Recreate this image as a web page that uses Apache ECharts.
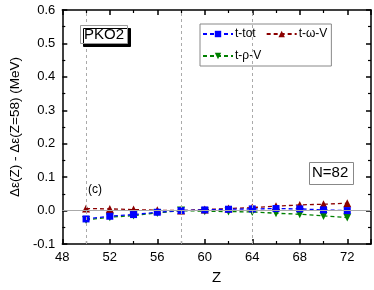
<!DOCTYPE html>
<html><head><meta charset="utf-8">
<script src="https://cdn.jsdelivr.net/npm/echarts@6/dist/echarts.min.js"></script>
<style>html,body{margin:0;padding:0;background:#fff}#c{width:374px;height:290px}</style>
</head><body><div id="c"></div>
<script>
const zValues = [50,52,54,56,58,60,62,64,66,68,70,72];
const tTot  = [-0.025,-0.017,-0.012,-0.005,0,0.002,0.004,0.005,0.006,0.005,0.002,0.0];
const tOmegaV = [0.006,0.005,0.003,0.001,0,0.003,0.006,0.009,0.013,0.017,0.019,0.022];
const tRhoV = [-0.028,-0.020,-0.015,-0.007,0,-0.002,-0.003,-0.004,-0.008,-0.011,-0.016,-0.021];
const seriesNames = ['t-tot','t-ω-V','t-ρ-V'];
const xTicks = [48,52,56,60,64,68,72];
const yTicks = [-0.1,0.0,0.1,0.2,0.3,0.4,0.5,0.6];
const vLines = [50,58,64];

const font = 'Liberation Sans, Arial, sans-serif';
const chart = echarts.init(document.getElementById('c'), null, {renderer:'canvas'});
function pts(arr){ return zValues.map((z,i)=>[z,arr[i]]); }
const axisCommon = {
  axisLine:{show:true,onZero:false,lineStyle:{color:'#000',width:1.5}},
  splitLine:{show:false}
};
const opt = {
  animation:false,
  textStyle:{fontFamily:font},
  grid:{left:60,right:3,top:10,bottom:42,containLabel:false},
  xAxis:[{
    type:'value',min:48,max:74,interval:4,position:'bottom',
    ...axisCommon,
    axisTick:{show:true,inside:true,length:5,lineStyle:{color:'#000',width:1.5}},
    minorTick:{show:true,splitNumber:2,length:3,lineStyle:{color:'#000',width:1.2}},
    axisLabel:{color:'#000',fontSize:13,fontFamily:font,margin:7,
      formatter:v=> xTicks.indexOf(v)>=0 ? String(v) : ''},
    name:'Z',nameLocation:'middle',nameGap:26,nameTextStyle:{color:'#000',fontSize:15,fontFamily:font}
  },{
    type:'value',min:48,max:74,interval:4,position:'top',
    ...axisCommon,
    axisTick:{show:true,inside:true,length:5,lineStyle:{color:'#000',width:1.5}},
    minorTick:{show:true,splitNumber:2,length:3,lineStyle:{color:'#000',width:1.2}},
    axisLabel:{show:false}
  }],
  yAxis:[{
    type:'value',min:-0.1,max:0.6,interval:0.1,position:'left',
    ...axisCommon,
    axisTick:{show:true,inside:true,length:5,lineStyle:{color:'#000',width:1.5}},
    minorTick:{show:true,splitNumber:2,length:3,lineStyle:{color:'#000',width:1.2}},
    axisLabel:{color:'#000',fontSize:13,fontFamily:font,margin:7,
      formatter:v=>{ const r=Math.round(v*10)/10; return yTicks.indexOf(r)>=0 ? r.toFixed(1) : ''; }},
    name:'Δε(Z) - Δε(Z=58) (MeV)',nameLocation:'middle',nameGap:36,nameRotate:90,
    nameTextStyle:{color:'#000',fontSize:13.5,fontFamily:font}
  },{
    type:'value',min:-0.1,max:0.6,interval:0.1,position:'right',
    ...axisCommon,
    axisTick:{show:true,inside:true,length:5,lineStyle:{color:'#000',width:1.5}},
    minorTick:{show:true,splitNumber:2,length:3,lineStyle:{color:'#000',width:1.2}},
    axisLabel:{show:false}
  }],
  legend:{
    show:true,left:200,top:24,width:135,itemGap:10,padding:[4,4,4,2],
    borderColor:'#888',borderWidth:1,backgroundColor:'#fff',
    itemWidth:30,itemHeight:8,
    textStyle:{fontSize:12,fontFamily:font,color:'#000',padding:[0,0,0,-3]},
    data:[seriesNames[0],seriesNames[1],seriesNames[2]]
  },
  series:[
    {name:seriesNames[2],type:'line',data:pts(tRhoV),symbol:'triangle',symbolRotate:180,symbolSize:8,z:3,
     lineStyle:{color:'#008000',type:[4,3],width:1.3},itemStyle:{color:'#008000'}},
    {name:seriesNames[1],type:'line',data:pts(tOmegaV),symbol:'triangle',symbolSize:8,z:3,
     lineStyle:{color:'#8B0000',type:[4,3],width:1.3},itemStyle:{color:'#8B0000'}},
    {name:seriesNames[0],type:'line',data:pts(tTot),symbol:'rect',symbolSize:7,z:4,
     lineStyle:{color:'#0000FF',type:[4,3],width:1.3},itemStyle:{color:'#0000FF'},
     markLine:{silent:true,symbol:'none',label:{show:false},animation:false,
       data:[
         {yAxis:0,lineStyle:{color:'#aaa',type:'solid',width:1.2}},
         ...vLines.map(v=>({xAxis:v,lineStyle:{color:'#aaa',type:[3,3],width:1}}))
       ]}}
  ],
  graphic:[
    {type:'rect',left:80,top:25,shape:{width:47,height:18},
     style:{fill:'#fff',stroke:'#999',lineWidth:1,shadowColor:'#000',shadowOffsetX:3,shadowOffsetY:3,shadowBlur:0},z:10},
    {type:'text',left:84,top:27,style:{text:'PKO2',fontSize:15,fontFamily:font,fill:'#000'},z:11},
    {type:'rect',left:309,top:162,shape:{width:44,height:22},
     style:{fill:'#fff',stroke:'#888',lineWidth:1},z:10},
    {type:'text',left:312,top:165,style:{text:'N=82',fontSize:15,fontFamily:font,fill:'#000'},z:11},
    {type:'text',left:88,top:184,style:{text:'(c)',fontSize:12,fontFamily:font,fill:'#000'},z:11}
  ]
};
chart.setOption(opt);
</script></body></html>
